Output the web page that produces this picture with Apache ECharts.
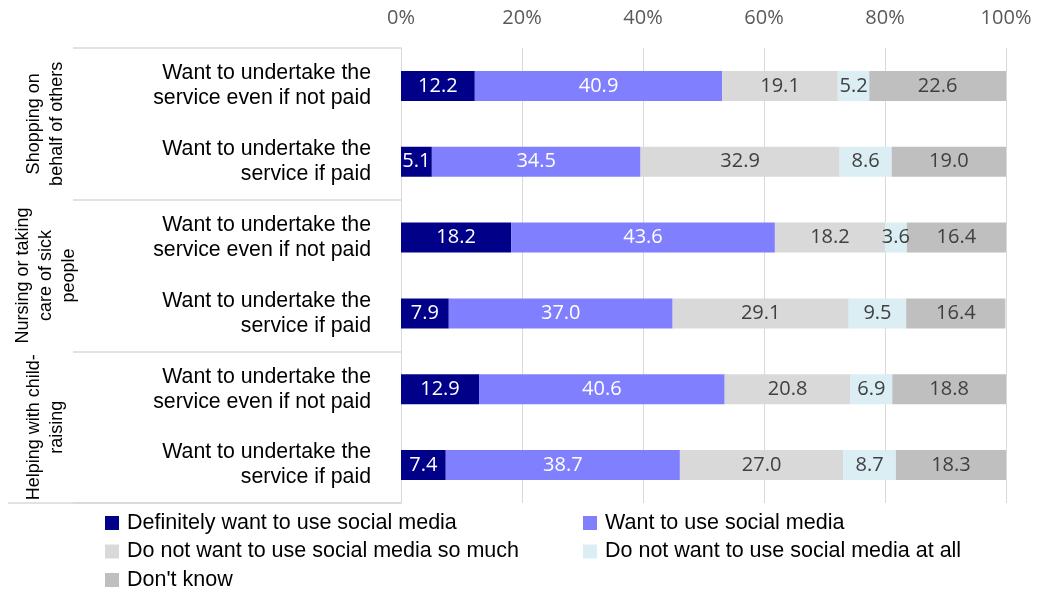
<!DOCTYPE html>
<html>
<head>
<meta charset="utf-8">
<script src="https://cdn.jsdelivr.net/npm/echarts@6/dist/echarts.min.js"></script>
<style>
  html, body { margin: 0; padding: 0; background: #ffffff; }
  #chart { width: 1041px; height: 599px; }
</style>
</head>
<body>
<div id="chart"></div>
<script>
// Row labels (top to bottom) and the activity group each pair belongs to
const rowLabels = [
  'Want to undertake the\nservice even if not paid',
  'Want to undertake the\nservice if paid',
  'Want to undertake the\nservice even if not paid',
  'Want to undertake the\nservice if paid',
  'Want to undertake the\nservice even if not paid',
  'Want to undertake the\nservice if paid'
];
const groupLabels = [
  'Shopping on\nbehalf of others',
  'Nursing or taking\ncare of sick\npeople',
  'Helping with child-\nraising'
];

// Answer shares (%) per row, one array per answer
const definitelyWant = [12.2, 5.1, 18.2, 7.9, 12.9, 7.4];
const want           = [40.9, 34.5, 43.6, 37.0, 40.6, 38.7];
const notSoMuch      = [19.1, 32.9, 18.2, 29.1, 20.8, 27.0];
const notAtAll       = [5.2, 8.6, 3.6, 9.5, 6.9, 8.7];
const dontKnow       = [22.6, 19.0, 16.4, 16.4, 18.8, 18.3];

const seriesNames = [
  'Definitely want to use social media',
  'Want to use social media',
  'Do not want to use social media so much',
  'Do not want to use social media at all',
  "Don't know"
];
const seriesData = [definitelyWant, want, notSoMuch, notAtAll, dontKnow];
const seriesColors = ['#000088', '#8080FF', '#D9D9D9', '#DAEEF3', '#BFBFBF'];
const labelColors = ['#ffffff', '#ffffff', '#404040', '#404040', '#404040'];

const xTicks = { min: 0, max: 100, interval: 20 };

const GRID = { left: 401, right: 35, top: 48, bottom: 96 };
const CHART_H = 599;
const numFont = "'Open Sans', sans-serif";
const textFont = "'Liberation Sans', Arial, sans-serif";
const lineColor = '#D9D9D9';

const chart = echarts.init(document.getElementById('chart'), null, { renderer: 'canvas' });

const legendText = { color: '#000000', fontFamily: textFont, fontSize: 21.5, padding: [0, 0, 0, 3] };

chart.setOption({
  animation: false,
  backgroundColor: '#ffffff',
  grid: { left: GRID.left, right: GRID.right, top: GRID.top, bottom: GRID.bottom, containLabel: false },
  xAxis: {
    type: 'value',
    position: 'top',
    min: xTicks.min,
    max: xTicks.max,
    interval: xTicks.interval,
    axisLine: { show: false },
    axisTick: { show: false },
    axisLabel: {
      formatter: '{value}%',
      color: '#595959',
      fontFamily: numFont,
      fontSize: 20,
      margin: 20
    },
    splitLine: { show: true, lineStyle: { color: lineColor, width: 1 } }
  },
  yAxis: [
    {
      type: 'category',
      data: rowLabels,
      inverse: true,
      axisLine: { show: true, lineStyle: { color: lineColor, width: 1 } },
      axisTick: { show: false },
      axisLabel: {
        interval: 0,
        color: '#000000',
        fontFamily: textFont,
        fontSize: 21.3,
        lineHeight: 25,
        align: 'right',
        margin: 30
      }
    },
    {
      type: 'category',
      data: groupLabels,
      inverse: true,
      position: 'left',
      axisLine: { show: false },
      axisTick: { show: true, interval: 0, length: 328, lineStyle: { color: lineColor, width: 1.5 } },
      axisLabel: {
        interval: 0,
        rotate: 90,
        color: '#000000',
        fontFamily: textFont,
        fontSize: 18,
        lineHeight: 23,
        align: 'center',
        verticalAlign: 'middle',
        margin: 355
      }
    }
  ],
  legend: [
    {
      data: [seriesNames[0], seriesNames[2], seriesNames[4]],
      orient: 'vertical',
      left: 100,
      top: 507,
      itemWidth: 14,
      itemHeight: 14,
      itemGap: 6.5,
      icon: 'rect',
      textStyle: legendText
    },
    {
      data: [seriesNames[1], seriesNames[3]],
      orient: 'vertical',
      left: 578,
      top: 507,
      itemWidth: 14,
      itemHeight: 14,
      itemGap: 6.5,
      icon: 'rect',
      textStyle: legendText
    }
  ],
  // bottom rule of the category header, running under the group labels too
  graphic: [
    {
      type: 'line',
      shape: { x1: 8, y1: CHART_H - GRID.bottom, x2: GRID.left, y2: CHART_H - GRID.bottom },
      style: { stroke: lineColor, lineWidth: 1.5 },
      silent: true
    }
  ],
  series: seriesNames.map((name, i) => ({
    name: name,
    type: 'bar',
    stack: 'total',
    barWidth: 30,
    data: seriesData[i],
    itemStyle: { color: seriesColors[i] },
    label: {
      show: true,
      position: 'inside',
      color: labelColors[i],
      fontFamily: numFont,
      fontSize: 20,
      formatter: (p) => p.value.toFixed(1)
    }
  }))
});
</script>
</body>
</html>
